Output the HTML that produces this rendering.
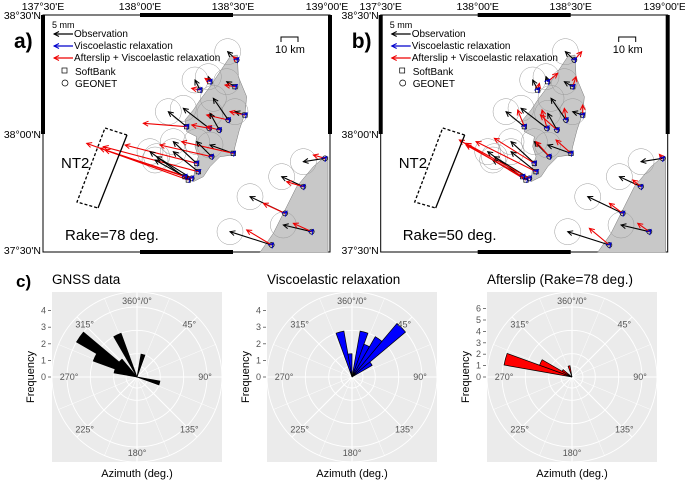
<!DOCTYPE html>
<html><head><meta charset="utf-8"><style>
body{margin:0;background:#fff}
svg{display:block;font-family:"Liberation Sans",sans-serif}
</style></head><body>
<svg id="fig" width="685" height="484" viewBox="0 0 685 484">
<defs>
<marker id="hk" markerUnits="userSpaceOnUse" markerWidth="8" markerHeight="8" refX="6" refY="3" orient="auto"><path d="M1,0.5 L6,3 L1,5.5" fill="none" stroke="#000" stroke-width="1"/></marker>
<marker id="hr" markerUnits="userSpaceOnUse" markerWidth="8" markerHeight="8" refX="6" refY="3" orient="auto"><path d="M1,0.5 L6,3 L1,5.5" fill="none" stroke="#e00" stroke-width="1"/></marker>
<marker id="hb" markerUnits="userSpaceOnUse" markerWidth="8" markerHeight="8" refX="6" refY="3" orient="auto"><path d="M1,0.5 L6,3 L1,5.5" fill="none" stroke="#00c" stroke-width="1"/></marker>
</defs>
<g id="maps"></g>
<g id="roses"></g>
</svg>
<script>
// ---- map data (station tails in panel-a pixel coords x3, vectors x3) ----
const stationX=[710,630,600,705,735,685,628,658,560,700,635,590,595,565,575,555,910,855,935,815,975];
const stationY=[180,245,270,260,345,360,385,390,380,460,470,490,515,540,535,530,560,640,695,735,475];
const stationType=['g','s','s','s','s','g','g','g','s','s','g','s','s','s','g','s','g','g','g','g','g'];
const obsDX=[-27,-5,-15,-25,-30,-45,-78,-28,-55,-70,-45,-70,-75,-115,-105,-90,-65,-105,-85,-125,-65];
const obsDY=[-25,-15,-30,-15,-10,-65,-60,-50,-45,-25,-45,-65,-60,-85,-65,-50,-30,-50,-20,-40,10];
const visDX=[6,6,5,7,6,6,6,6,6,6,5,6,7,7,6,6,5,6,5,5,5];
const visDY=[-7,-7,-7,-6,-6,-7,-7,-7,-7,-6,-7,-7,-6,-7,-7,-7,-6,-6,-6,-6,-5];
const redADX=[-10,-15,-25,-30,-45,-65,-53,-38,-130,-155,-155,-215,-285,-305,-275,-240,-50,-65,-55,-75,-35];
const redADY=[-10,-10,-5,-5,-10,-15,-10,-10,-10,-35,-35,-55,-75,-110,-90,-80,-15,-30,-25,-45,-10];
const redBDX=[22,30,5,10,0,-5,-15,-50,-20,-45,-40,-120,-180,-200,-190,-170,-25,-40,-35,-60,-10];
const redBDY=[-25,-25,-20,-30,-30,-35,-55,-45,-50,-40,-45,-75,-90,-120,-105,-95,-20,-30,-25,-50,-12];
// ---- rose data ----
const binCenters=[5,15,25,35,45,55,65,75,85,95,105,115,125,135,145,155,165,175,185,195,205,215,225,235,245,255,265,275,285,295,305,315,325,335,345,355];
const gnssFreq=[0,1,0,0,0,0,0,0,0,0,1,0,0,0,0,0,0,0,0,0,0,0,0,0,0,0,0,0,1,2,3,1,0,2,0,0];
const viscoFreq=[0,2,1.5,2,3,1,0,0,0,0,0,0,0,0,0,0,0,0,0,0,0,0,0,0,0,0,0,0,0,0,0,0,0,0,2,1];
const afterFreq=[0,0,0,0,0,0,0,0,0,0,0,0,0,0,0,0,0,0,0,0,0,0,0,0,0,0,0,0,6,3,1,0,0,0,1,0];
const gnssTicks=['0','1','2','3','4'];
const viscoTicks=['0','1','2','3','4'];
const afterTicks=['0','1','2','3','4','5','6'];
const dirLabels=['360°/0°','45°','90°','135°','180°','225°','270°','315°'];

const NS='http://www.w3.org/2000/svg';
function mk(tag,attrs,parent,text){const e=document.createElementNS(NS,tag);for(const k in attrs)e.setAttribute(k,attrs[k]);if(text!==undefined)e.textContent=text;parent.appendChild(e);return e;}

const sado=[[690,170],[712,165],[715,230],[740,290],[735,340],[718,390],[705,440],[700,465],[660,470],[630,500],[610,530],[580,545],[585,500],[595,470],[585,440],[590,410],[560,395],[555,360],[580,330],[600,300],[630,260],[650,230],[670,200]];
const mainland=[[780,757],[820,700],[860,620],[890,560],[940,500],[975,470],[984,470],[984,757]];

function drawMap(ox,label,rake,redDX,redDY,pname){
  const g=mk('g',{transform:`translate(${ox},0)`},document.getElementById('maps'));
  
  
  const L=43,R=330,T=15,B=252;
  mk('rect',{x:L,y:T,width:R-L,height:B-T,fill:'#fff',stroke:'#000','stroke-width':1},g);
  const land=mk('polygon',{points:sado.map(p=>(p[0]/3)+','+(p[1]/3)).join(' '),fill:'#c8c8c8',stroke:'#777','stroke-width':0.5},g);
  
  
  const ml=mk('polygon',{points:mainland.map(p=>(p[0]/3)+','+(p[1]/3)).join(' '),fill:'#c8c8c8',stroke:'#777','stroke-width':0.5},g);
  
  
  const fb=mk('g',{},g);
  
  
  mk('rect',{x:140,y:T-2,width:93,height:4,fill:'#000'},fb);
  mk('rect',{x:140,y:B-2,width:93,height:4,fill:'#000'},fb);
  mk('rect',{x:L-2,y:T,width:4,height:119,fill:'#000'},fb);
  mk('rect',{x:R-2,y:T,width:4,height:119,fill:'#000'},fb);
  const lons=["137°30'E","138°00'E","138°30'E","139°00'E"],lx=[43,140,233,327];
  lons.forEach((t,i)=>{mk('text',{x:lx[i],y:10,'font-size':10.5,'text-anchor':'middle'},g,t);});
  const lats=["38°30'N","38°00'N","37°30'N"],ly=[19,138,254];
  lats.forEach((t,i)=>{mk('text',{x:L-2,y:ly[i],'font-size':10.5,'text-anchor':'end'},g,t);});
  for(let i=0;i<stationX.length;i++){
    const x=stationX[i]/3,y=stationY[i]/3;
    mk('circle',{cx:x+obsDX[i]/3,cy:y+obsDY[i]/3,r:13,fill:'none',stroke:'#999','stroke-width':0.5},g);
  }
  for(let i=0;i<stationX.length;i++){
    const x=stationX[i]/3,y=stationY[i]/3;
    if(stationType[i]==='g')mk('circle',{cx:x,cy:y,r:2.5,fill:'none',stroke:'#000','stroke-width':0.7},g);
    else mk('rect',{x:x-2.2,y:y-2.2,width:4.4,height:4.4,fill:'none',stroke:'#000','stroke-width':0.7},g);
    const o=mk('line',{x1:x,y1:y,x2:x+obsDX[i]/3,y2:y+obsDY[i]/3,stroke:'#000','stroke-width':1.1,'marker-end':'url(#hk)'},g);
    
    
    const r=mk('line',{x1:x,y1:y,x2:x+redDX[i]/3,y2:y+redDY[i]/3,stroke:'#e00','stroke-width':1.1,'marker-end':'url(#hr)'},g);
    
    
    const b=mk('line',{x1:x,y1:y,x2:x+visDX[i]/3,y2:y+visDY[i]/3,stroke:'#00c','stroke-width':1.2,'marker-end':'url(#hb)'},g);
    
    
  }
  const f=mk('g',{},g);
  
  
  mk('polyline',{points:'127,135 105,128 77,202 98,208',fill:'none',stroke:'#000','stroke-width':1.3,'stroke-dasharray':'3,2'},f);
  mk('line',{x1:127,y1:135,x2:98,y2:208,stroke:'#000','stroke-width':1.3},f);
  mk('text',{x:61,y:168,'font-size':15},g,'NT2');
  const rk=mk('text',{x:65,y:240,'font-size':15},g,'Rake='+rake+' deg.');
  
  
  const pl=mk('text',{x:14,y:48,'font-size':21,'font-weight':'bold'},g,label);
  
  
  const lg=mk('g',{'font-size':10},g);
  
  
  mk('text',{x:52,y:28,'font-size':9},lg,'5 mm');
  const rows=[['Observation','#000','hk',37],['Viscoelastic relaxation','#00c','hb',49],['Afterslip + Viscoelastic relaxation','#e00','hr',61]];
  rows.forEach(r=>{mk('line',{x1:73,y1:r[3]-3,x2:54,y2:r[3]-3,stroke:r[1],'stroke-width':1.2,'marker-end':`url(#${r[2]})`},lg);mk('text',{x:74,y:r[3]},lg,r[0]);});
  mk('rect',{x:62,y:68,width:5,height:5,fill:'none',stroke:'#000','stroke-width':0.7},lg);
  mk('text',{x:75,y:75},lg,'SoftBank');
  mk('circle',{cx:65,cy:83,r:3,fill:'none',stroke:'#000','stroke-width':0.7},lg);
  mk('text',{x:75,y:87},lg,'GEONET');
  mk('polyline',{points:'281,42 281,37 298,37 298,42',fill:'none',stroke:'#000','stroke-width':1},g);
  mk('text',{x:290,y:53,'font-size':11,'text-anchor':'middle'},g,'10 km');
}
drawMap(0,'a)',78,redADX,redADY,'map-panel-a');
drawMap(337.7,'b)',50,redBDX,redBDY,'map-panel-b');

function drawRose(cx,freq,ticks,unitPx,tickPx,color,title,pname){
  const g=mk('g',{},document.getElementById('roses'));
  
  
  const cy=377,H=85;
  mk('rect',{x:cx-H,y:cy-H,width:2*H,height:2*H,fill:'#ebebeb'},g);
  [11,23.3,46.7,70,85].forEach(r=>mk('circle',{cx,cy,r,fill:'none',stroke:'#fff','stroke-width':0.9},g));
  for(let a=0;a<360;a+=22.5){const t=a*Math.PI/180;mk('line',{x1:cx,y1:cy,x2:cx+85*Math.sin(t),y2:cy-85*Math.cos(t),stroke:'#fff','stroke-width':a%45===0?1.1:0.5},g);}
  const rad=v=>v*unitPx;
  binCenters.forEach((c,i)=>{
    const v=freq[i];if(!v)return;
    const a1=(c-5)*Math.PI/180,a2=(c+5)*Math.PI/180,r=rad(v);
    const p=mk('path',{d:`M${cx},${cy} L${cx+r*Math.sin(a1)},${cy-r*Math.cos(a1)} A${r},${r} 0 0 1 ${cx+r*Math.sin(a2)},${cy-r*Math.cos(a2)} Z`,fill:color,stroke:'#000','stroke-width':0.7},g);
    
    
  });
  dirLabels.forEach((t,i)=>{const a=i*45*Math.PI/180;const R=(i%2===0)?(i%4===2?68:76):74;
    mk('text',{x:cx+R*Math.sin(a),y:cy-R*Math.cos(a)+3,'font-size':9,fill:'#555','text-anchor':'middle'},g,t);});
  ticks.forEach((t,i)=>{const y=cy-i*tickPx;
    mk('text',{x:cx-H-6,y:y+3,'font-size':9,fill:'#555','text-anchor':'end'},g,t);
    mk('line',{x1:cx-H-4,y1:y,x2:cx-H-1,y2:y,stroke:'#555','stroke-width':0.8},g);});
  const tt=mk('text',{x:cx-H,y:284,'font-size':13.5},g,title);
  
  
  mk('text',{x:cx,y:477,'font-size':11,'text-anchor':'middle'},g,'Azimuth (deg.)');
  mk('text',{x:0,y:0,'font-size':11,'text-anchor':'middle',transform:`translate(${cx-H-18},${cy}) rotate(-90)`},g,'Frequency');
}
drawRose(137,gnssFreq,gnssTicks,23.3,16.6,'#000','GNSS data','rose-gnss');
drawRose(352,viscoFreq,viscoTicks,23.3,16.6,'#00f','Viscoelastic relaxation','rose-viscoelastic');
drawRose(572,afterFreq,afterTicks,11.5,11.4,'#f00','Afterslip (Rake=78 deg.)','rose-afterslip');
const c=mk('text',{x:16,y:287,'font-size':17,'font-weight':'bold'},document.getElementById('roses'),'c)');


</script>
</body></html>
